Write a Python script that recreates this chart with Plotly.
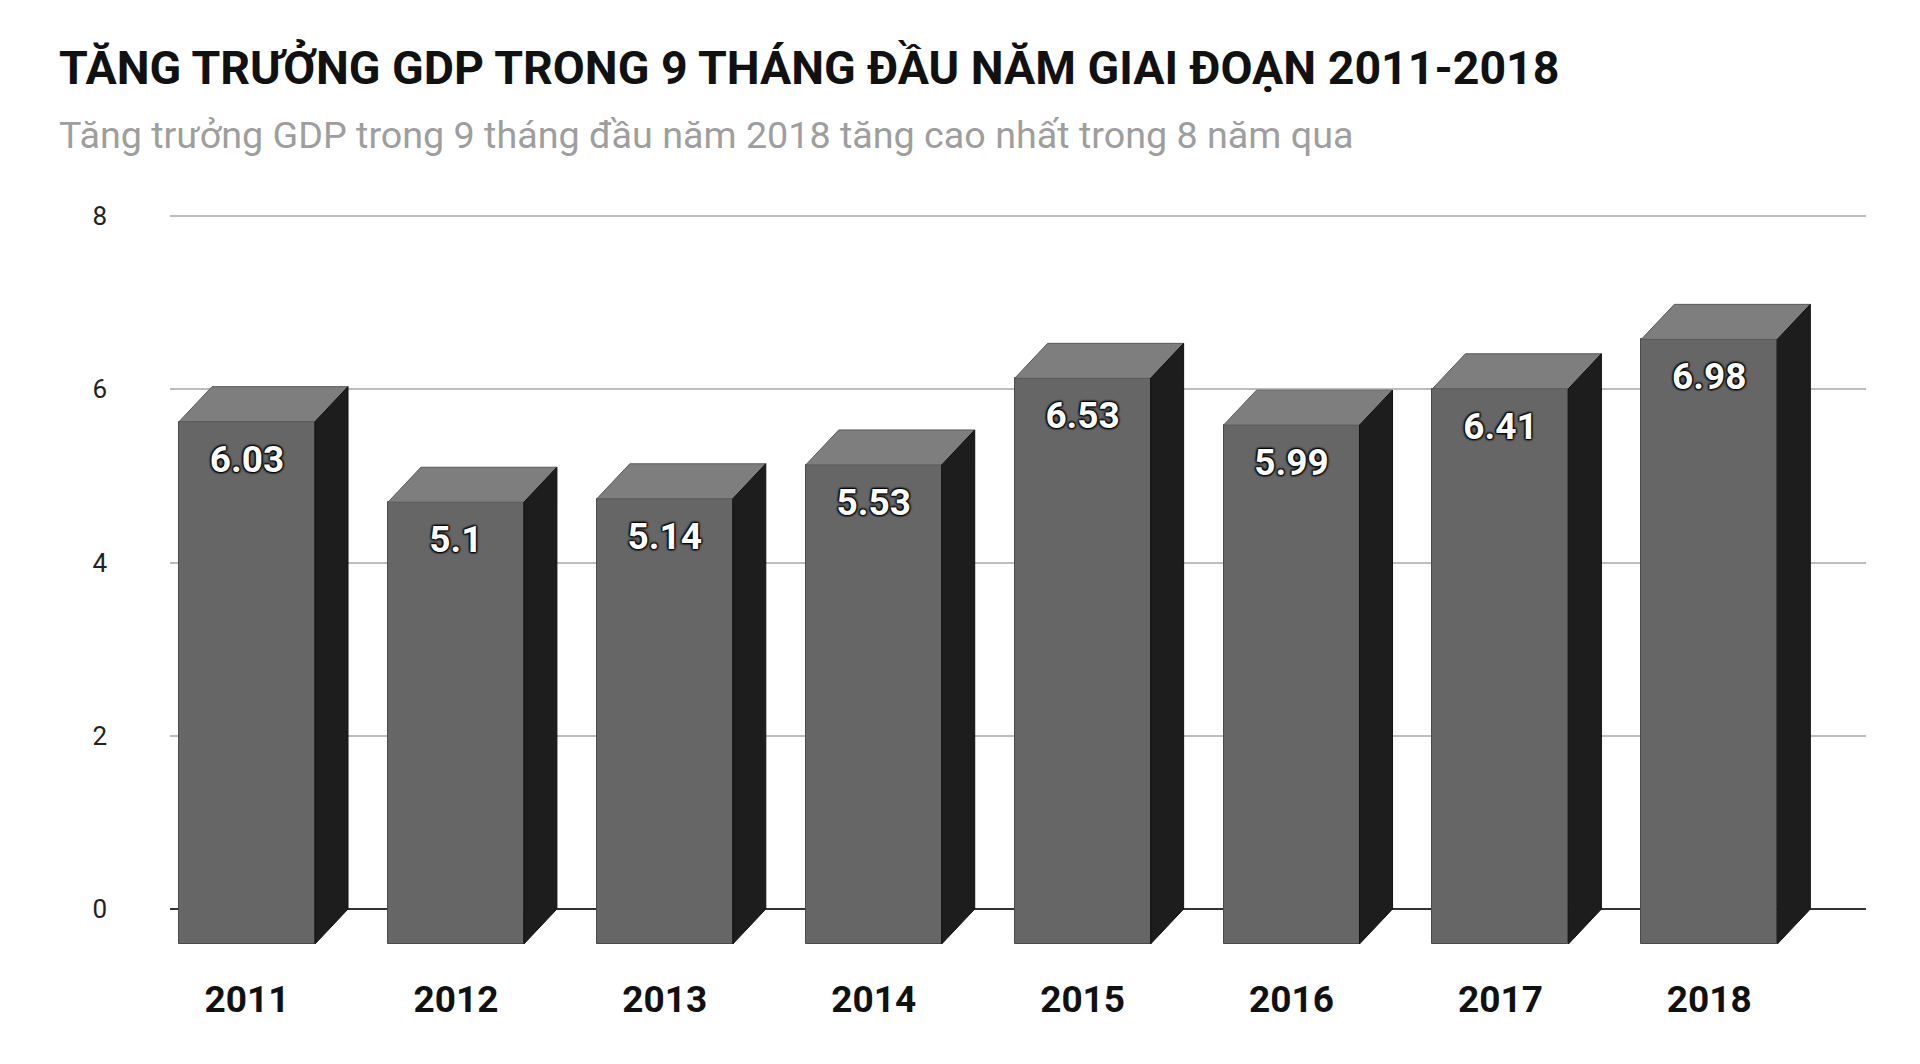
import plotly.graph_objects as go

years = ["2011", "2012", "2013", "2014", "2015", "2016", "2017", "2018"]
gdp = [6.03, 5.1, 5.14, 5.53, 6.53, 5.99, 6.41, 6.98]
y_ticks = [0, 2, 4, 6, 8]

TITLE = "TĂNG TRƯỞNG GDP TRONG 9 THÁNG ĐẦU NĂM GIAI ĐOẠN 2011-2018"
SUBTITLE = "Tăng trưởng GDP trong 9 tháng đầu năm 2018 tăng cao nhất trong 8 năm qua"

# 3D styling (in axis units)
HW = 0.3255   # half width of bar
DX = 0.158    # depth offset x
DY = 0.404    # depth offset y

FRONT = "#666666"
TOP = "#7e7e7e"
SIDE = "#1d1d1d"
FONT = "Roboto"

idx = list(range(len(years)))
fig = go.Figure()

# front faces
fig.add_trace(go.Bar(
    x=[i - DX for i in idx], y=gdp, base=[-DY] * len(gdp),
    width=2 * HW, marker=dict(color=FRONT, line=dict(color="#4a4a4a", width=1)),
    hoverinfo="skip", showlegend=False,
))

# top and side faces
for i, v in zip(idx, gdp):
    fig.add_trace(go.Scatter(
        x=[i - HW - DX, i - HW, i + HW, i + HW - DX, i - HW - DX],
        y=[v - DY, v, v, v - DY, v - DY],
        mode="lines", fill="toself", fillcolor=TOP,
        line=dict(color="#5a5a5a", width=1), hoverinfo="skip", showlegend=False,
    ))
    fig.add_trace(go.Scatter(
        x=[i + HW - DX, i + HW, i + HW, i + HW - DX, i + HW - DX],
        y=[v - DY, v, 0, -DY, v - DY],
        mode="lines", fill="toself", fillcolor=SIDE,
        line=dict(color="#111111", width=1), hoverinfo="skip", showlegend=False,
    ))

# value labels
fig.add_trace(go.Scatter(
    x=[i - DX for i in idx], y=[v - DY - 0.47 for v in gdp],
    text=[f"{v:g}" for v in gdp], mode="text",
    textfont=dict(family=FONT, size=37, color="white", weight="bold",
                  shadow="1px 1px 2px #000, -1px -1px 2px #000, 1px -1px 2px #000, -1px 1px 2px #000"),
    hoverinfo="skip", showlegend=False,
))

fig.update_layout(
    width=1920, height=1064,
    paper_bgcolor="white", plot_bgcolor="white",
    margin=dict(l=170, r=54, t=207, b=112),
    bargap=0,
    xaxis=dict(
        range=[-0.5266, 7.592], tickmode="array",
        tickvals=[i - DX for i in idx], ticktext=years,
        showgrid=False, zeroline=False, showline=False, ticks="",
        tickfont=dict(family=FONT, size=37, color="#111111", weight="bold"),
        ticklabelstandoff=22,
    ),
    yaxis=dict(
        range=[-0.496, 8.104], tickmode="array", tickvals=y_ticks,
        ticktext=[str(t) for t in y_ticks],
        showgrid=True, gridcolor="#bdbdbd", gridwidth=2,
        zeroline=True, zerolinecolor="#333333", zerolinewidth=2,
        showline=False, ticks="",
        tickfont=dict(family=FONT, size=26, color="#222222"),
        ticklabelstandoff=62,
    ),
    annotations=[
        dict(text=f"<b>{TITLE}</b>", xref="paper", yref="paper",
             x=(57 - 170) / 1696, y=(1064 - 112 - 83) / 745, xanchor="left", yanchor="bottom",
             yshift=-14, showarrow=False,
             font=dict(family=FONT, size=46.5, color="#111111")),
        dict(text=SUBTITLE, xref="paper", yref="paper",
             x=(57 - 170) / 1696, y=(1064 - 112 - 149) / 745, xanchor="left", yanchor="bottom",
             yshift=-10, showarrow=False,
             font=dict(family=FONT, size=37.7, color="#9e9e9e")),
    ],
)

fig.write_html("out.html")
